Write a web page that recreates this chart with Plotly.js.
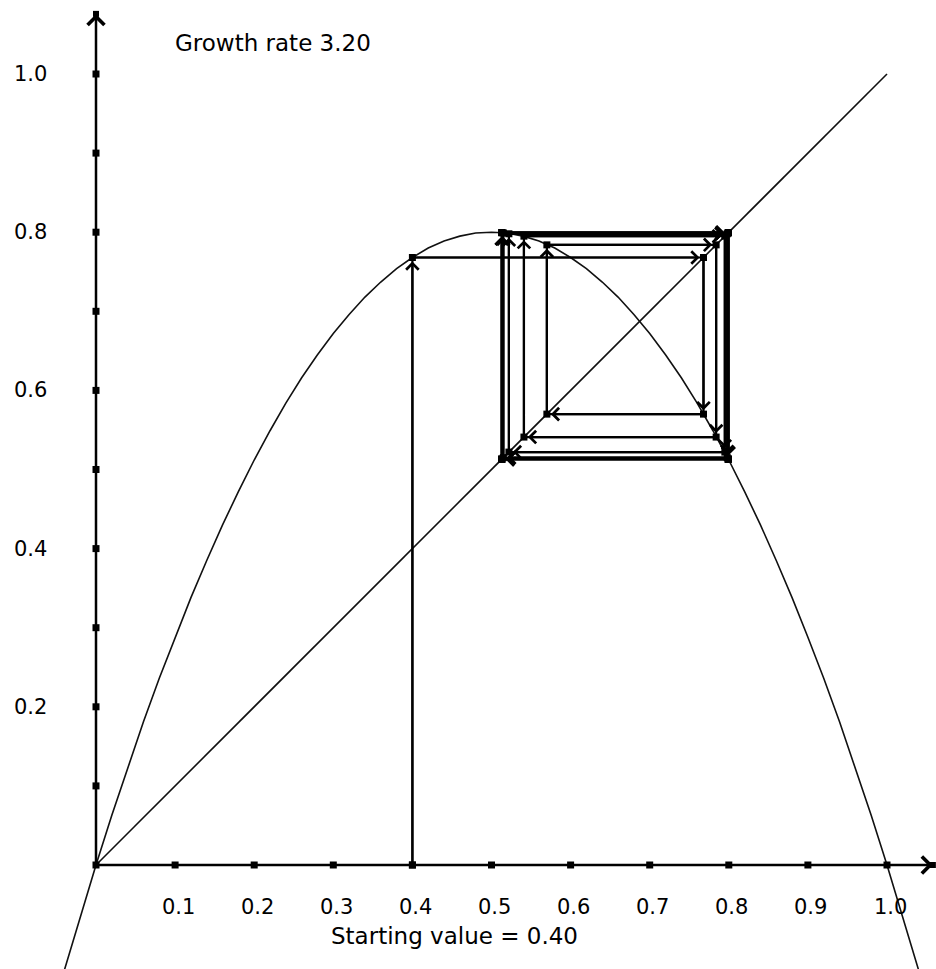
<!DOCTYPE html>
<html><head><meta charset="utf-8">
<script src="https://cdn.plot.ly/plotly-3.0.1.min.js"></script>
<style>html,body{margin:0;padding:0;background:#fff}#chart{width:936px;height:969px}</style>
</head><body><div id="chart"></div>
<script>
// ---- data ----
const titleText = 'Growth rate 3.20';
const startText = 'Starting value = 0.40';

// the map curve (points read along the drawn parabola)
const curveX = [-0.04,-0.02,0.00,0.02,0.04,0.06,0.08,0.10,0.12,0.14,0.16,0.18,0.20,0.22,0.24,0.26,0.28,0.30,0.32,0.34,0.36,0.38,0.40,0.42,0.44,0.46,0.48,0.50,
                0.52,0.54,0.56,0.58,0.60,0.62,0.64,0.66,0.68,0.70,0.72,0.74,0.76,0.78,0.80,0.82,0.84,0.86,0.88,0.90,0.92,0.94,0.96,0.98,1.00,1.02,1.04,1.06];
const curveY = [-0.133,-0.065,0.000,0.063,0.123,0.181,0.236,0.288,0.338,0.385,0.430,0.472,0.512,0.549,0.584,0.616,0.645,0.672,0.696,0.718,0.737,0.754,0.768,0.780,0.789,0.795,0.799,0.800,
                0.799,0.795,0.789,0.780,0.768,0.754,0.737,0.718,0.696,0.672,0.645,0.616,0.584,0.549,0.512,0.472,0.430,0.385,0.338,0.288,0.236,0.181,0.123,0.063,0.000,-0.065,-0.133,-0.204];

// the diagonal y = x
const diagX = [0, 1];
const diagY = [0, 1];

// successive values of the orbit (cobweb corners)
const orbit = [0.400,0.768,0.570,0.784,0.541,0.795,0.522,0.798,0.515,0.799,0.513,0.7994,0.5131,0.7995,0.5130,0.7995,0.5130];

// axis ticks
const xTickVals = [0.1,0.2,0.3,0.4,0.5,0.6,0.7,0.8,0.9,1.0];
const xTickText = ['0.1','0.2','0.3','0.4','0.5','0.6','0.7','0.8','0.9','1.0'];
const yTickVals = [0.1,0.2,0.3,0.4,0.5,0.6,0.7,0.8,0.9,1.0];
const yLabelVals = [0.2,0.4,0.6,0.8,1.0];
const yLabelText = ['0.2','0.4','0.6','0.8','1.0'];
const axisEndX = 1.058;
const axisEndY = 1.076;

// ---- layout calibration ----
const W = 936, H = 969;
const ORIGIN_PX = 96, ORIGIN_PY = 865, UNIT = 791;
const xRange = [-ORIGIN_PX / UNIT, (W - ORIGIN_PX) / UNIT];
const yRange = [-(H - ORIGIN_PY) / UNIT, ORIGIN_PY / UNIT];
const FONT = 'DejaVu Sans';

// build cobweb path from orbit
const webX = [orbit[0]], webY = [0];
for (let i = 0; i < orbit.length - 1; i++) {
  webX.push(orbit[i]);   webY.push(orbit[i + 1]);
  webX.push(orbit[i + 1]); webY.push(orbit[i + 1]);
}

const traces = [
  { x: curveX, y: curveY, mode: 'lines', line: { color: '#111', width: 1.6 }, hoverinfo: 'skip' },
  { x: diagX, y: diagY, mode: 'lines', line: { color: '#111', width: 1.6 }, hoverinfo: 'skip' },
  { x: webX, y: webY, mode: 'lines+markers', line: { color: '#000', width: 2.2 },
    marker: { symbol: 'square', size: 7, color: '#000' }, hoverinfo: 'skip' },
  { x: xTickVals.concat([0]), y: xTickVals.map(() => 0).concat([0]), mode: 'markers',
    marker: { symbol: 'square', size: 7, color: '#000' }, hoverinfo: 'skip' },
  { x: yTickVals.map(() => 0), y: yTickVals, mode: 'markers',
    marker: { symbol: 'square', size: 7, color: '#000' }, hoverinfo: 'skip' },
  { x: [axisEndX, 0], y: [0, axisEndY], mode: 'markers',
    marker: { symbol: 'square', size: 6, color: '#000' }, hoverinfo: 'skip' }
];

const annotations = [];
// axes with arrows
annotations.push({ x: axisEndX, y: 0, ax: 0, ay: 0, xref: 'x', yref: 'y', axref: 'x', ayref: 'y',
  text: '', showarrow: true, arrowhead: 4, arrowsize: 1.3, arrowwidth: 2.5, arrowcolor: '#000', standoff: 0 });
annotations.push({ x: 0, y: axisEndY, ax: 0, ay: 0, xref: 'x', yref: 'y', axref: 'x', ayref: 'y',
  text: '', showarrow: true, arrowhead: 4, arrowsize: 1.3, arrowwidth: 2.5, arrowcolor: '#000', standoff: 0 });
// cobweb arrows
for (let i = 0; i < webX.length - 1; i++) {
  annotations.push({ x: webX[i + 1], y: webY[i + 1], ax: webX[i], ay: webY[i],
    xref: 'x', yref: 'y', axref: 'x', ayref: 'y', text: '', showarrow: true,
    arrowhead: 4, arrowsize: 1.1, arrowwidth: 2.2, arrowcolor: '#000', standoff: 4 });
}
// tick labels
xTickVals.forEach((v, i) => annotations.push({ x: v, y: 0, xref: 'x', yref: 'y', text: xTickText[i],
  showarrow: false, xanchor: 'center', yanchor: 'middle', xshift: 3, yshift: -42,
  font: { family: FONT, size: 21, color: '#000' } }));
yLabelVals.forEach((v, i) => annotations.push({ x: 0, y: v, xref: 'x', yref: 'y', text: yLabelText[i],
  showarrow: false, xanchor: 'center', yanchor: 'middle', xshift: -66, yshift: 0,
  font: { family: FONT, size: 21, color: '#000' } }));
// texts
annotations.push({ x: 173 / W, y: 1 - 43 / H, xref: 'paper', yref: 'paper', text: titleText, showarrow: false,
  xanchor: 'left', yanchor: 'middle', font: { family: FONT, size: 23, color: '#000' } });
annotations.push({ x: 454 / W, y: 1 - 936 / H, xref: 'paper', yref: 'paper', text: startText, showarrow: false,
  xanchor: 'center', yanchor: 'middle', font: { family: FONT, size: 23, color: '#000' } });

const layout = {
  width: W, height: H,
  margin: { l: 0, r: 0, t: 0, b: 0, pad: 0 },
  paper_bgcolor: '#fff', plot_bgcolor: '#fff',
  showlegend: false,
  xaxis: { range: xRange, visible: false, fixedrange: true },
  yaxis: { range: yRange, visible: false, fixedrange: true },
  annotations: annotations
};

Plotly.newPlot('chart', traces, layout, { displayModeBar: false, staticPlot: true });
</script>
</body></html>
